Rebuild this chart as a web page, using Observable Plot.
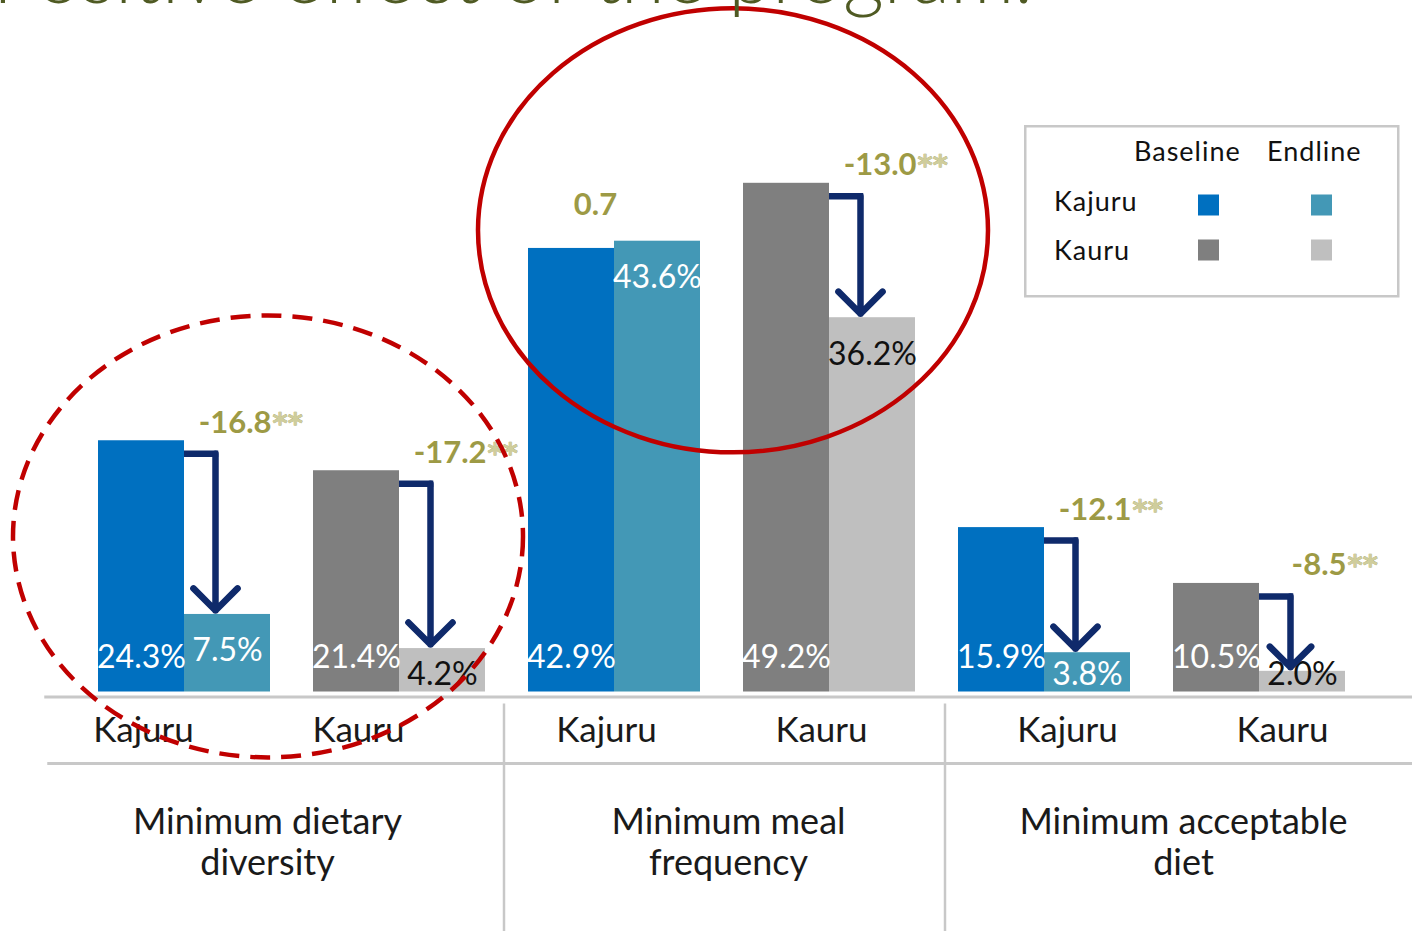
<!DOCTYPE html>
<html>
<head>
<meta charset="utf-8">
<script src="https://cdn.jsdelivr.net/npm/d3@7"></script>
<script src="https://cdn.jsdelivr.net/npm/@observablehq/plot@0.6"></script>
<style>
  body { margin: 0; background: #fff; overflow: hidden; }
  #wrap { position: relative; width: 1412px; height: 931px; font-family: Lato, "Open Sans", sans-serif; }
  .overlay { position: absolute; pointer-events: none; }
</style>
</head>
<body>
<div id="wrap"></div>
<script>
// ---------- data ----------
const indicators = ["Minimum dietary diversity", "Minimum meal frequency", "Minimum acceptable diet"];
const indicatorLabels = ["Minimum dietary\ndiversity", "Minimum meal\nfrequency", "Minimum acceptable\ndiet"];
const districts = ["Kajuru", "Kauru"];
const periods = ["Baseline", "Endline"];
// order: for each indicator, Kajuru then Kauru
const baselineValues = [24.3, 21.4, 42.9, 49.2, 15.9, 10.5];
const endlineValues = [7.5, 4.2, 43.6, 36.2, 3.8, 2.0];
const changeLabels = ["-16.8", "-17.2", "0.7", "-13.0", "-12.1", "-8.5"];
const significant = [true, true, false, true, true, true];
const titleText = "Positive effect of the program.";

// ---------- colours ----------
const barColors = {Kajuru: ["#0070C0", "#4398B6"], Kauru: ["#7F7F7F", "#BFBFBF"]};
const olive = "#9D9A45";
const oliveLight = "#CFCD9C";
const navy = "#0F2A6B";
const red = "#C00000";
const lineGray = "#C8C8C8";

// ---------- derived tables ----------
const pairs = [];
indicators.forEach((ind, gi) => districts.forEach((d, di) => {
  const i = gi * 2 + di;
  pairs.push({
    key: ind + "|" + d, group: gi, indicator: ind, district: d,
    base: baselineValues[i], end: endlineValues[i],
    change: changeLabels[i], sig: significant[i]
  });
}));
const keys = pairs.map(p => p.key);
const bars = pairs.flatMap(p => periods.map((per, k) => ({
  key: p.key, district: p.district, period: per, value: k === 0 ? p.base : p.end
})));
const baseRows = bars.filter(b => b.period === "Baseline");
const endRows = bars.filter(b => b.period === "Endline");
const groups = indicators.map((ind, gi) => ({key: keys[gi * 2], label: indicatorLabels[gi]}));

const W = 1412, H = 931;
const halfBar = 86;       // half of band width (172)
const font = "Lato, 'Open Sans', sans-serif";
const subShift = [-41, -8, 23];
const groupShift = [-24.5, 6.5, 31.5];
const sw = 6.5;

const marks = [
  // bars
  Plot.barY(baseRows, {x: "key", y: "value", fill: d => barColors[d.district][0], insetRight: halfBar}),
  Plot.barY(endRows, {x: "key", y: "value", fill: d => barColors[d.district][1], insetLeft: halfBar}),
  // value labels
  Plot.text(baseRows, {x: "key", text: d => d.value.toFixed(1) + "%", frameAnchor: "bottom", lineAnchor: "bottom",
    dx: -43, dy: -24, fill: "white", fontSize: 32, fontFamily: font}),
  Plot.text(endRows.filter(d => d.value >= 5), {x: "key", y: "value", text: d => d.value.toFixed(1) + "%",
    lineAnchor: "bottom", dx: 43, dy: 47, fill: d => d.district === "Kajuru" ? "white" : "#111", fontSize: 32, fontFamily: font}),
  Plot.text(endRows.filter(d => d.value < 5), {x: "key", text: d => d.value.toFixed(1) + "%", frameAnchor: "bottom",
    lineAnchor: "bottom", dx: 43, dy: -7, fill: d => d.district === "Kajuru" ? "white" : "#111", fontSize: 32, fontFamily: font}),
  // elbow arrows
  Plot.tickY(pairs.filter(p => p.sig), {x: "key", y: "base", dy: 13, insetLeft: halfBar + sw / 2, insetRight: halfBar - 31,
    stroke: navy, strokeWidth: sw, strokeLinecap: "square"}),
  Plot.arrow(pairs.filter(p => p.sig), {x1: "key", x2: "key", y1: "base", y2: "end", dx: 31,
    insetStart: 13, insetEnd: 4, headAngle: 90, headLength: 7.2, stroke: navy, strokeWidth: sw}),
  // change labels
  Plot.text(pairs.filter(p => p.sig), {x: "key", y: "base", text: "change", textAnchor: "end", lineAnchor: "bottom",
    dx: 87, dy: -8, fill: olive, fontWeight: "bold", fontSize: 31, fontFamily: font}),
  Plot.text(pairs.filter(p => p.sig), {x: "key", y: "base", text: () => "**", textAnchor: "start", lineAnchor: "bottom",
    dx: 88, dy: -8, fill: oliveLight, stroke: "#A9A766", strokeWidth: 0.6, fontWeight: "bold", fontSize: 29,
    fontFamily: "'DejaVu Sans', sans-serif"}),
  Plot.text(pairs.filter(p => !p.sig), {x: "key", y: d => Math.max(d.base, d.end), text: "change", textAnchor: "middle",
    lineAnchor: "bottom", dx: -19, dy: -26, fill: olive, fontWeight: "bold", fontSize: 31, fontFamily: font}),
  // district labels (per indicator block)
  ...[0, 1, 2].map(gi => Plot.text(pairs.filter(p => p.group === gi), {x: "key", text: "district", frameAnchor: "bottom",
    lineAnchor: "bottom", dx: subShift[gi], dy: 50, fill: "#1a1a1a", fontSize: 35, fontFamily: font})),
  // indicator labels
  ...[0, 1, 2].map(gi => Plot.text([groups[gi]], {x: "key", text: "label", frameAnchor: "bottom", lineAnchor: "top",
    lineHeight: 1.14, dx: 107.5 + groupShift[gi], dy: 113, fill: "#1a1a1a", fontSize: 36, fontFamily: font})),
  // table rules and highlight ellipses
  (index, scales, values, dims) => {
    const x = scales.x, y = scales.y;
    const bw = typeof x.bandwidth === "function" ? x.bandwidth() : x.bandwidth;
    const step = typeof x.step === "function" ? x.step() : x.step;
    const g = d3.create("svg:g");
    const y0 = y(0);
    const left = x(keys[0]) - step * 0.25;
    g.append("line").attr("x1", left).attr("x2", dims.width).attr("y1", y0 + 5.5).attr("y2", y0 + 5.5)
      .attr("stroke", lineGray).attr("stroke-width", 3);
    g.append("line").attr("x1", left + 3).attr("x2", dims.width).attr("y1", y0 + 72).attr("y2", y0 + 72)
      .attr("stroke", lineGray).attr("stroke-width", 3);
    [[2, -24], [4, -13]].forEach(([k, off]) => {
      const sx = x(keys[k]) + off;
      g.append("line").attr("x1", sx).attr("x2", sx).attr("y1", y0 + 12).attr("y2", dims.height)
        .attr("stroke", lineGray).attr("stroke-width", 2.5);
    });
    // solid ellipse around minimum meal frequency
    g.append("ellipse")
      .attr("cx", (x(keys[2]) + x(keys[3]) + bw) / 2 + 11.5).attr("cy", y(44.6))
      .attr("rx", 255).attr("ry", 222)
      .attr("fill", "none").attr("stroke", red).attr("stroke-width", 4.5);
    // dashed ellipse around minimum dietary diversity
    g.append("ellipse")
      .attr("cx", (x(keys[0]) + x(keys[1]) + bw) / 2 - 23.5).attr("cy", y(15))
      .attr("rx", 255).attr("ry", 221)
      .attr("fill", "none").attr("stroke", red).attr("stroke-width", 4.5)
      .attr("stroke-dasharray", "20 11");
    return g.node();
  }
];

const chart = Plot.plot({
  width: W, height: H,
  marginTop: 0, marginBottom: 239.5, marginLeft: 76.5, marginRight: 45.5,
  x: {domain: keys, paddingInner: 0.2, paddingOuter: 0.1, round: false, axis: null},
  y: {domain: [0, 66.88], axis: null},
  color: {type: "identity"},
  style: {fontFamily: font, background: "white"},
  marks
});

const wrap = document.getElementById("wrap");
wrap.appendChild(chart);

// ---------- title fragment (top, mostly cut off) ----------
const t = d3.select(wrap).append("svg").attr("class", "overlay")
  .style("left", "0px").style("top", "0px").attr("width", W).attr("height", 40);
t.append("text").attr("x", 1033).attr("y", 3).attr("text-anchor", "end")
  .attr("font-family", font).attr("font-weight", 300).attr("font-size", 80).attr("fill", "#4F5A23").text(titleText);

// ---------- legend ----------
const lg = d3.select(wrap).append("svg").attr("class", "overlay")
  .style("left", "1024px").style("top", "125px").attr("width", 376).attr("height", 174);
lg.append("rect").attr("x", 1.25).attr("y", 1.25).attr("width", 373).attr("height", 170)
  .attr("fill", "white").attr("stroke", lineGray).attr("stroke-width", 2.5);
const colX = [110, 243], swX = [174, 287], rowY = [86, 135], swY = [69.5, 114.5];
periods.forEach((p, k) => lg.append("text").attr("x", colX[k]).attr("y", 36)
  .attr("font-family", font).attr("font-size", 27).attr("letter-spacing", 1).attr("fill", "#111").text(p));
districts.forEach((d, r) => {
  lg.append("text").attr("x", 30).attr("y", rowY[r]).attr("font-family", font).attr("font-size", 27)
    .attr("letter-spacing", 1).attr("fill", "#111").text(d);
  periods.forEach((p, k) => lg.append("rect").attr("x", swX[k]).attr("y", swY[r])
    .attr("width", 21).attr("height", 21).attr("fill", barColors[d][k]));
});
</script>
</body>
</html>
